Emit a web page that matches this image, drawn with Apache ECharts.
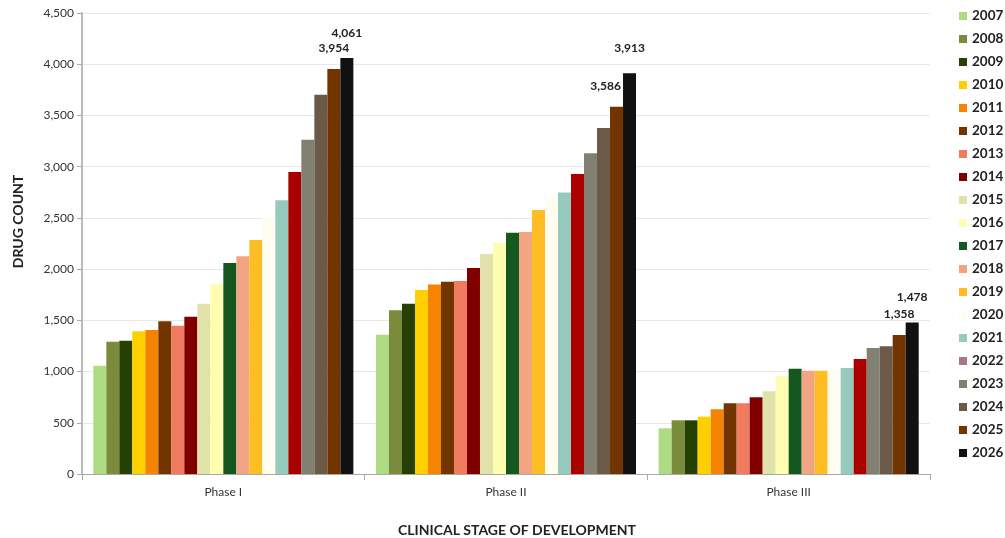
<!DOCTYPE html>
<html>
<head>
<meta charset="utf-8">
<style>
  html, body { margin: 0; padding: 0; background: #fff; }
  #chart { width: 1005px; height: 538px; }
</style>
<script src="https://cdn.jsdelivr.net/npm/echarts@6/dist/echarts.min.js"></script>
</head>
<body>
<div id="chart"></div>
<script>
// Clinical stages shown on the category axis
const stages = ['Phase I', 'Phase II', 'Phase III'];

// Pipeline years, one bar series each
const years = ['2007','2008','2009','2010','2011','2012','2013','2014','2015','2016',
               '2017','2018','2019','2020','2021','2022','2023','2024','2025','2026'];

// Drug counts per year: [Phase I, Phase II, Phase III]
const v2007 = [1057, 1360, 446];
const v2008 = [1292, 1598, 524];
const v2009 = [1301, 1663, 524];
const v2010 = [1393, 1796, 560];
const v2011 = [1406, 1851, 631];
const v2012 = [1490, 1877, 690];
const v2013 = [1448, 1884, 690];
const v2014 = [1536, 2011, 748];
const v2015 = [1663, 2147, 807];
const v2016 = [1855, 2258, 953];
const v2017 = [2060, 2356, 1028];
const v2018 = [2125, 2362, 1009];
const v2019 = [2284, 2577, 1009];
const v2020 = [2502, 2700, 1012];
const v2021 = [2671, 2749, 1035];
const v2022 = [2948, 2928, 1123];
const v2023 = [3263, 3130, 1230];
const v2024 = [3703, 3377, 1246];
const v2025 = [3954, 3586, 1358];
const v2026 = [4061, 3913, 1478];

const values = [v2007, v2008, v2009, v2010, v2011, v2012, v2013, v2014, v2015, v2016,
                v2017, v2018, v2019, v2020, v2021, v2022, v2023, v2024, v2025, v2026];

// Y axis ticks
const yMin = 0, yMax = 4500, yStep = 500;

// Colours for bars; legend swatches use their own list
const barColors = ['#AEDC84','#7A8B3C','#264003','#FFD000','#F58500','#733500','#F07B5E','#800000',
                   '#E0E2AA','#FFFDAF','#14581F','#F2A582','#FEBE23','#FFFDF0','#95CABD','#AA0000',
                   '#828073','#6C5A48','#733500','#111111'];
const legendColors = barColors.slice();
legendColors[15] = '#A8778A';

// Years whose bars carry value labels, with the gap above the bar
const labelled = { '2025': 15, '2026': 19 };

const fontFamily = 'Lato, "Open Sans", sans-serif';

const series = years.map((y, i) => {
  const s = {
    name: y,
    type: 'bar',
    data: values[i],
    barGap: 0,
    barCategoryGap: '8%',
    itemStyle: { color: barColors[i] },
    label: { show: false },
    emphasis: { disabled: true }
  };
  if (labelled[y] !== undefined) {
    s.z = 3;
    s.label = {
      show: true,
      position: 'top',
      distance: labelled[y],
      color: '#222',
      fontFamily: fontFamily,
      fontSize: 12,
      fontWeight: 'bold',
      formatter: p => p.value.toLocaleString('en-US')
    };
    // keep the 2025 label clear of the taller neighbouring bar
    if (y === '2025') {
      s.labelLayout = p => (p.dataIndex === 1 ? { dx: -11 } : {});
    }
  }
  return s;
});

const chart = echarts.init(document.getElementById('chart'), null, { renderer: 'canvas' });
chart.setOption({
  animation: false,
  backgroundColor: '#fff',
  grid: { left: 82, right: 75, top: 13, bottom: 64, containLabel: false, outerBoundsMode: 'none' },
  legend: {
    orient: 'vertical',
    top: 4,
    left: 954,
    itemWidth: 8,
    itemHeight: 8,
    itemGap: 9.0,
    icon: 'rect',
    textStyle: { fontFamily: fontFamily, fontSize: 13.5, color: '#222', fontWeight: 'bold' },
    data: years.map((y, i) => ({ name: y, itemStyle: { color: legendColors[i] } }))
  },
  xAxis: {
    type: 'category',
    data: stages,
    name: 'CLINICAL STAGE OF DEVELOPMENT',
    nameLocation: 'middle',
    nameGap: 49,
    nameTextStyle: { fontFamily: fontFamily, fontSize: 14, fontWeight: 'bold', color: '#222', padding: [0, 0, 0, 22] },
    axisLine: { lineStyle: { color: '#aaa', width: 1 } },
    axisTick: { show: true, alignWithLabel: false, length: 6, lineStyle: { color: '#aaa' } },
    axisLabel: { fontFamily: fontFamily, fontSize: 12, color: '#333', margin: 12 },
    splitLine: { show: false }
  },
  yAxis: {
    type: 'value',
    min: yMin,
    max: yMax,
    interval: yStep,
    name: 'DRUG COUNT',
    nameLocation: 'middle',
    nameGap: 57,
    nameRotate: 90,
    nameTextStyle: { fontFamily: fontFamily, fontSize: 14, fontWeight: 'bold', color: '#222', padding: [0, 0, 0, 44] },
    axisLine: { show: true, lineStyle: { color: '#bbb', width: 2 } },
    axisTick: { show: true, length: 5, lineStyle: { color: '#aaa' } },
    axisLabel: {
      fontFamily: fontFamily, fontSize: 12, color: '#333', margin: 8,
      formatter: v => v.toLocaleString('en-US')
    },
    splitLine: { show: true, lineStyle: { color: '#e8e8e8', width: 1 } }
  },
  series: series
});
</script>
</body>
</html>
